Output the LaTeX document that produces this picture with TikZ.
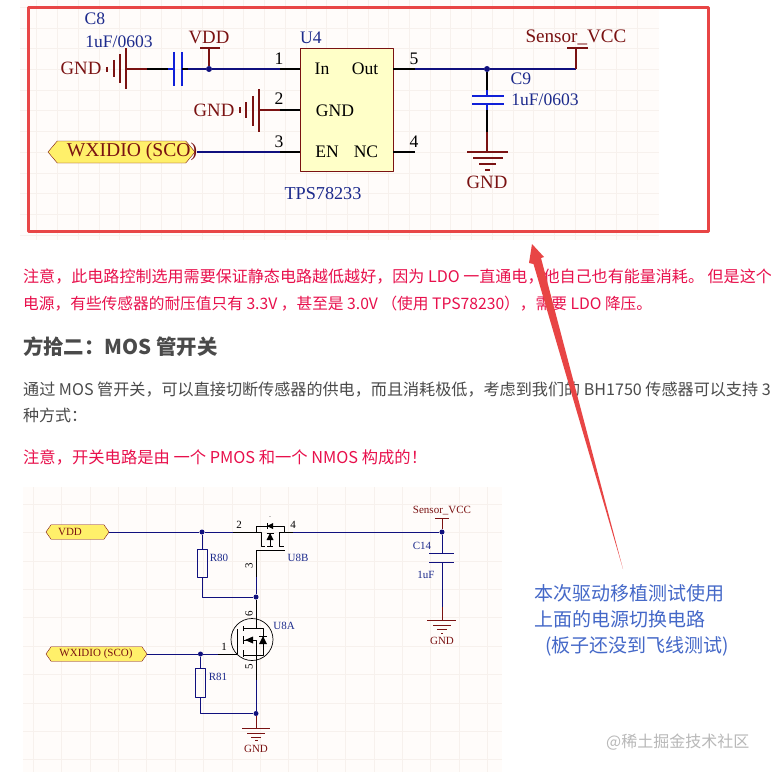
\documentclass[tikz,border=0pt]{standalone}
\usepackage{fontspec}
\setmainfont{Liberation Serif}
\newfontfamily\cjkfont{Noto Sans CJK SC}
\usetikzlibrary{shapes.symbols}
\definecolor{netnavy}{HTML}{10107E}
\definecolor{symred}{HTML}{7A1212}
\definecolor{capblue}{HTML}{1020D8}
\definecolor{labelblue}{HTML}{1C2A8C}
\definecolor{boxred}{HTML}{E84545}
\definecolor{notered}{HTML}{E8104C}
\definecolor{bodygrey}{HTML}{4A4A4A}
\definecolor{calloutblue}{HTML}{4468C8}
\definecolor{gridtint}{HTML}{F7F1ED}
\definecolor{paper}{HTML}{FFFCFA}
\definecolor{portfill}{HTML}{FFF06A}
\definecolor{chipfill}{HTML}{FFFFC8}
\tikzset{
  netwire/.style={draw=netnavy,line width=1.3bp},
  pinwire/.style={draw=black,line width=1.3bp},
  redwire/.style={draw=symred,line width=1.5bp},
  platewire/.style={draw=capblue,line width=1.6bp},
  smallnet/.style={draw=netnavy,line width=0.8bp},
  smallpin/.style={draw=black,line width=0.8bp},
  smallred/.style={draw=symred,line width=0.8bp},
  junction/.style={circle,fill=netnavy,inner sep=0pt,minimum size=#1},
  bigtext/.style={font=\fontsize{17.6bp}{20bp}\selectfont},
  redtext/.style={font=\fontsize{18.8bp}{20bp}\selectfont,text=symred},
  smalltext/.style={font=\fontsize{11bp}{12bp}\selectfont},
  bodyline/.style={anchor=west,inner sep=0pt,font=\cjkfont\fontsize{#1bp}{18bp}\selectfont},
  portbox/.style={shape=signal,signal to=west and east,draw=symred,fill=portfill,inner sep=0pt,signal pointer angle=#1},
}
\begin{document}
\begin{tikzpicture}[x=1bp,y=-1bp,>=latex,line join=bevel]
\useasboundingbox (0,0) rectangle (771,772);
\fill[white] (0,0) rectangle (771,772);
%% schematic sheets
\fill[paper] (20,0) rectangle (659,240);
\foreach \k in {1,...,30} {\draw[gridtint,line width=0.6bp] (16+41.4*\k/2,0) -- (16+41.4*\k/2,240);}
\foreach \k in {0,...,11} {\draw[gridtint,line width=0.6bp] (20,7.2+20.7*\k) -- (659,7.2+20.7*\k);}
\fill[paper] (23,487) rectangle (502,772);
\foreach \k in {0,...,16} {\draw[gridtint,line width=0.6bp] (33+28.4*\k,487) -- (33+28.4*\k,772);}
\foreach \k in {0,...,9} {\draw[gridtint,line width=0.6bp] (23,504+28.4*\k) -- (502,504+28.4*\k);}
%% upper circuit
\node (node_u4) at (346.5,109.5) [draw=symred,fill=chipfill,line width=0.9bp,minimum width=93bp,minimum height=123bp,inner sep=0pt] {};
\node (node_in) at (322,69) [bigtext] {In};
\node (node_out) at (365,69) [bigtext] {Out};
\node (node_ugnd) at (335,110.5) [bigtext] {GND};
\node (node_en) at (327,151.5) [bigtext] {EN};
\node (node_nc) at (366,151.5) [bigtext] {NC};
\node (node_u4name) at (311,37.5) [bigtext,text=labelblue] {U4};
\node (node_tps) at (323,193.5) [bigtext,text=labelblue,font=\fontsize{18.2bp}{20bp}\selectfont] {TPS78233};
\node (node_c8) at (95,18.5) [bigtext,text=labelblue] {C8};
\node (node_c8val) at (119,41.5) [bigtext,text=labelblue] {1uF/0603};
\node (node_c9) at (521,78.5) [bigtext,text=labelblue] {C9};
\node (node_c9val) at (545,99.5) [bigtext,text=labelblue] {1uF/0603};
\node (node_gnda) at (81,68.5) [redtext] {GND};
\node (node_gndb) at (214,110.5) [redtext] {GND};
\node (node_gndc) at (487,182.5) [redtext] {GND};
\node (node_vdd) at (209,37.5) [redtext] {VDD};
\node (node_sensor) at (576,37.5) [redtext,font=\fontsize{19.1bp}{20bp}\selectfont] {Sensor\_VCC};
\node (node_pin1) at (279,59) [bigtext] {1};
\node (node_pin2) at (279,99) [bigtext] {2};
\node (node_pin3) at (279,142) [bigtext] {3};
\node (node_pin4) at (414,142) [bigtext] {4};
\node (node_pin5) at (414,59) [bigtext] {5};
\node (node_wxa) at (121.5,152) [portbox=100,minimum width=147bp,minimum height=22bp] {};
\node (node_wxat) at (132,151.5) [redtext,font=\fontsize{19.6bp}{20bp}\selectfont] {WXIDIO (SCO)};
\node (node_dota) at (209,69) [junction=6bp] {};
\node (node_dotb) at (487,69) [junction=6bp] {};
%
\draw[redwire] (126,48) -- (126,89) (120,54) -- (120,83) (114,60) -- (114,77) (107,67) -- (107,72);
\coordinate (gnda_lead) at (126,69);
\coordinate (c8_black) at (147,69);
\coordinate (c8_blue) at (168,69);
\coordinate (c8_left) at (174,69);
\coordinate (c8_right) at (182,69);
\coordinate (c8_wire) at (188,69);
\coordinate (u4_in) at (300,69);
\coordinate (u4_inb) at (280,69);
\draw[redwire] (gnda_lead) -- (c8_black);
\draw[pinwire] (c8_black) -- (c8_blue);
\draw[platewire] (c8_blue) -- (c8_left);
\draw[platewire] (174,52) -- (174,86) (182,52) -- (182,86);
\draw[pinwire] (c8_right) -- (c8_wire);
\draw[netwire] (c8_wire) -- (node_dota) -- (u4_inb);
\draw[pinwire] (u4_inb) -- (u4_in);
\coordinate (vdd_bar) at (209,48);
\draw[redwire] (node_dota) -- (vdd_bar) (200,48) -- (220,48);
\draw[redwire] (259,89) -- (259,132) (253,96) -- (253,126) (246,102) -- (246,118) (240,107) -- (240,113);
\coordinate (gndb_lead) at (259,110);
\coordinate (u4_gndb) at (280,110);
\coordinate (u4_gnd) at (300,110);
\draw[redwire] (gndb_lead) -- (u4_gndb);
\draw[pinwire] (u4_gndb) -- (u4_gnd);
\coordinate (wxa_end) at (197,152);
\coordinate (u4_enb) at (280,152);
\coordinate (u4_en) at (300,152);
\draw[netwire] (wxa_end) -- (u4_enb);
\draw[pinwire] (u4_enb) -- (u4_en);
\coordinate (u4_out) at (393,69);
\coordinate (u4_outb) at (415,69);
\coordinate (sensor_elbow) at (576,69);
\coordinate (sensor_bar) at (576,48);
\draw[pinwire] (u4_out) -- (u4_outb);
\draw[netwire] (u4_outb) -- (node_dotb) -- (sensor_elbow);
\draw[redwire] (sensor_elbow) -- (sensor_bar) (567,48) -- (588,48);
\coordinate (c9_a) at (487,90);
\coordinate (c9_b) at (487,96);
\coordinate (c9_c) at (487,104);
\coordinate (c9_d) at (487,110);
\coordinate (c9_e) at (487,132);
\coordinate (c9_f) at (487,152);
\draw[pinwire] (node_dotb) -- (c9_a);
\draw[platewire] (c9_a) -- (c9_b) (c9_c) -- (c9_d);
\draw[platewire] (472,96) -- (504,96) (472,104) -- (504,104);
\draw[pinwire] (c9_d) -- (c9_e);
\draw[redwire] (c9_e) -- (c9_f);
\draw[redwire] (467,152) -- (508,152) (473,158) -- (503,158) (479,164) -- (496,164) (485,170) -- (490,170);
\coordinate (u4_nc) at (393,152);
\coordinate (u4_ncb) at (415,152);
\draw[pinwire] (u4_nc) -- (u4_ncb);
%% red frame
\draw[boxred,line width=3bp] (28,7.5) rectangle (708.5,231);
%% lines of the article
\node (note_a) at (23,277) [bodyline=16.05,text=notered] {注意，此电路控制选用需要保证静态电路越低越好，因为 LDO 一直通电，他自己也有能量消耗。 但是这个};
\node (note_b) at (23,304) [bodyline=15.7,text=notered] {电源，有些传感器的耐压值只有 3.3V ，甚至是 3.0V （使用 TPS78230），需要 LDO 降压。};
\node (head_a) at (23,347) [anchor=west,inner sep=0pt,text=bodygrey,font=\cjkfont\bfseries\fontsize{20.4bp}{24bp}\selectfont] {方拾二：MOS 管开关};
\node (body_a) at (23,390) [bodyline=16.1,text=bodygrey] {通过 MOS 管开关，可以直接切断传感器的供电，而且消耗极低，考虑到我们的 BH1750 传感器可以支持 3};
\node (body_b) at (23,415) [bodyline=16,text=bodygrey] {种方式：};
\node (note_c) at (23,457) [bodyline=16.3,text=notered] {注意，开关电路是由 一个 PMOS 和一个 NMOS 构成的！};
%% lower circuit
\node (node_wxb) at (96.5,654) [portbox=110,minimum width=101bp,minimum height=14.5bp] {};
\node (node_wxbt) at (96,654) [smalltext,text=symred] {WXIDIO (SCO)};
\node (node_vddb) at (77.5,532) [portbox=110,minimum width=63bp,minimum height=14.5bp] {};
\node (node_vddt) at (70,532) [smalltext,text=symred] {VDD};
\node (node_r80) at (202,563) [draw=netnavy,line width=0.8bp,minimum width=10bp,minimum height=28bp,inner sep=0pt] {};
\node (node_r81) at (200.5,682.5) [draw=netnavy,line width=0.8bp,minimum width=10.5bp,minimum height=29bp,inner sep=0pt] {};
\node (node_r80t) at (219,558) [smalltext,text=labelblue] {R80};
\node (node_r81t) at (218,677) [smalltext,text=labelblue] {R81};
\node (node_u8b) at (298,558) [smalltext,text=labelblue] {U8B};
\node (node_u8a) at (284,626) [smalltext,text=labelblue] {U8A};
\node (node_c14) at (422,546) [smalltext,text=labelblue] {C14};
\node (node_c14val) at (426,575) [smalltext,text=labelblue] {1uF};
\node (node_sensorb) at (442,511) [smalltext,text=symred] {Sensor\_VCC};
\node (node_gndd) at (256,749) [smalltext,text=symred] {GND};
\node (node_gnde) at (442,641) [smalltext,text=symred] {GND};
\node (node_pinb2) at (239,525) [smalltext] {2};
\node (node_pinb4) at (293,525) [smalltext] {4};
\node (node_pinb3) at (249,566) [smalltext,rotate=90] {3};
\node (node_pinb6) at (249,614) [smalltext,rotate=90] {6};
\node (node_pinb5) at (249,667) [smalltext,rotate=90] {5};
\node (node_pinb1) at (224,647) [smalltext] {1};
\node (node_dotc) at (202,532) [junction=5bp] {};
\node (node_dotd) at (256,597) [junction=5bp] {};
\node (node_dote) at (200.5,654) [junction=5bp] {};
\node (node_dotf) at (256,713.5) [junction=5bp] {};
\node (node_dotg) at (442,532) [junction=5bp] {};
\node (node_mos) at (252,639.5) [circle,draw=black,line width=0.7bp,minimum size=42bp,inner sep=0pt] {};
%
\coordinate (vdd_blk) at (233,532);
\coordinate (u8b_src) at (256,532);
\coordinate (u8b_drn) at (284,532);
\coordinate (u8b_blk) at (293,532);
\draw[smallnet] (node_vddb.east) -- (node_dotc) -- (vdd_blk);
\draw[smallpin] (vdd_blk) -- (u8b_src);
\draw[smallpin] (u8b_src) -- (256,526) -- (284,526) -- (u8b_drn) -- (u8b_blk);
\draw[smallnet] (u8b_blk) -- (node_dotg);
%% pmos body
\draw[smallpin] (256,532) -- (261,532) -- (261,546) -- (265,546) (284,532) -- (279,532) -- (279,546) -- (284,546) (267,546) -- (273,546) (270,546) -- (270,533);
\fill[black] (270,533) -- (266.5,540) -- (273.5,540) -- cycle;
\draw[smallpin] (266.5,533) -- (273.5,533);
\fill[black] (267,526) -- (273,523) -- (273,529) -- cycle;
\draw[smallpin] (267,523) -- (267,529);
\fill[black] (270,516.5) circle (0.4bp);
\draw[smallpin] (257,550) -- (285,550);
\coordinate (u8b_gate) at (256,550);
\coordinate (u8b_blu) at (256,577);
\coordinate (r80_low) at (202,597);
\coordinate (u8a_blu) at (256,628);
\draw[smallpin] (u8b_gate) -- (u8b_blu);
\draw[smallnet] (u8b_blu) -- (node_dotd);
\draw[smallnet] (node_dotc) -- (node_r80.north);
\draw[smallnet] (node_r80.south) -- (r80_low) -- (node_dotd);
\draw[smallpin] (node_dotd) -- (u8a_blu);
%% nmos body
\draw[smallpin] (243,628) -- (263,628) -- (263,655) -- (243,655) (243,626) -- (243,631) (243,636) -- (243,644) (243,650) -- (243,657) (237,629) -- (237,654) (243,640) -- (256,640) -- (256,655);
\fill[black] (245,640) -- (253,636.5) -- (253,643.5) -- cycle;
\fill[black] (263,636) -- (259,644) -- (267,644) -- cycle;
\draw[smallpin] (259,636) -- (267,636);
\coordinate (u8a_gate) at (237,654);
\coordinate (wxb_blk) at (218,654);
\coordinate (u8a_src) at (256,655);
\coordinate (u8a_low) at (256,680);
\coordinate (r81_low) at (200.5,713.5);
\coordinate (gndd_top) at (256,728);
\draw[smallnet] (node_wxb.east) -- (node_dote) -- (wxb_blk);
\draw[smallpin] (wxb_blk) -- (u8a_gate);
\draw[smallnet] (node_dote) -- (node_r81.north);
\draw[smallnet] (node_r81.south) -- (r81_low) -- (node_dotf);
\draw[smallpin] (u8a_src) -- (u8a_low);
\draw[smallnet] (u8a_low) -- (node_dotf);
\draw[smallred] (node_dotf) -- (gndd_top);
\draw[smallred] (242,728) -- (270,728) (247,733) -- (265,733) (251,737) -- (261,737) (255,740.5) -- (258,740.5);
\coordinate (sensorb_bar) at (442,518);
\coordinate (c14_a) at (442,553);
\coordinate (c14_b) at (442,562);
\coordinate (c14_c) at (442,607);
\coordinate (gnde_top) at (442,620);
\draw[smallred] (node_dotg) -- (sensorb_bar) (435,518) -- (449,518);
\draw[smallnet] (node_dotg) -- (c14_a) (429,553) -- (454,553) (429,562) -- (454,562) (c14_b) -- (c14_c);
\draw[smallred] (c14_c) -- (gnde_top);
\draw[smallred] (427,620) -- (456,620) (433,625) -- (451,625) (437,629) -- (447,629) (441,633) -- (443,633);
%% callout
\node (call_a) at (534,593) [anchor=west,inner sep=0pt,text=calloutblue,font=\cjkfont\fontsize{19bp}{22bp}\selectfont] {本次驱动移植测试使用};
\node (call_b) at (534,619) [anchor=west,inner sep=0pt,text=calloutblue,font=\cjkfont\fontsize{19bp}{22bp}\selectfont] {上面的电源切换电路};
\node (call_c) at (545,646) [anchor=west,inner sep=0pt,text=calloutblue,font=\cjkfont\fontsize{19bp}{22bp}\selectfont] {(板子还没到飞线测试)};
\node (mark_a) at (606,742) [anchor=west,inner sep=0pt,text=black!28,font=\cjkfont\fontsize{16bp}{18bp}\selectfont] {@稀土掘金技术社区};
%% big arrow
\fill[boxred] (532,244) -- (544,257) -- (541,258) -- (623,569) -- (533.5,264) -- (529,263) -- cycle;
\end{tikzpicture}
\end{document}
